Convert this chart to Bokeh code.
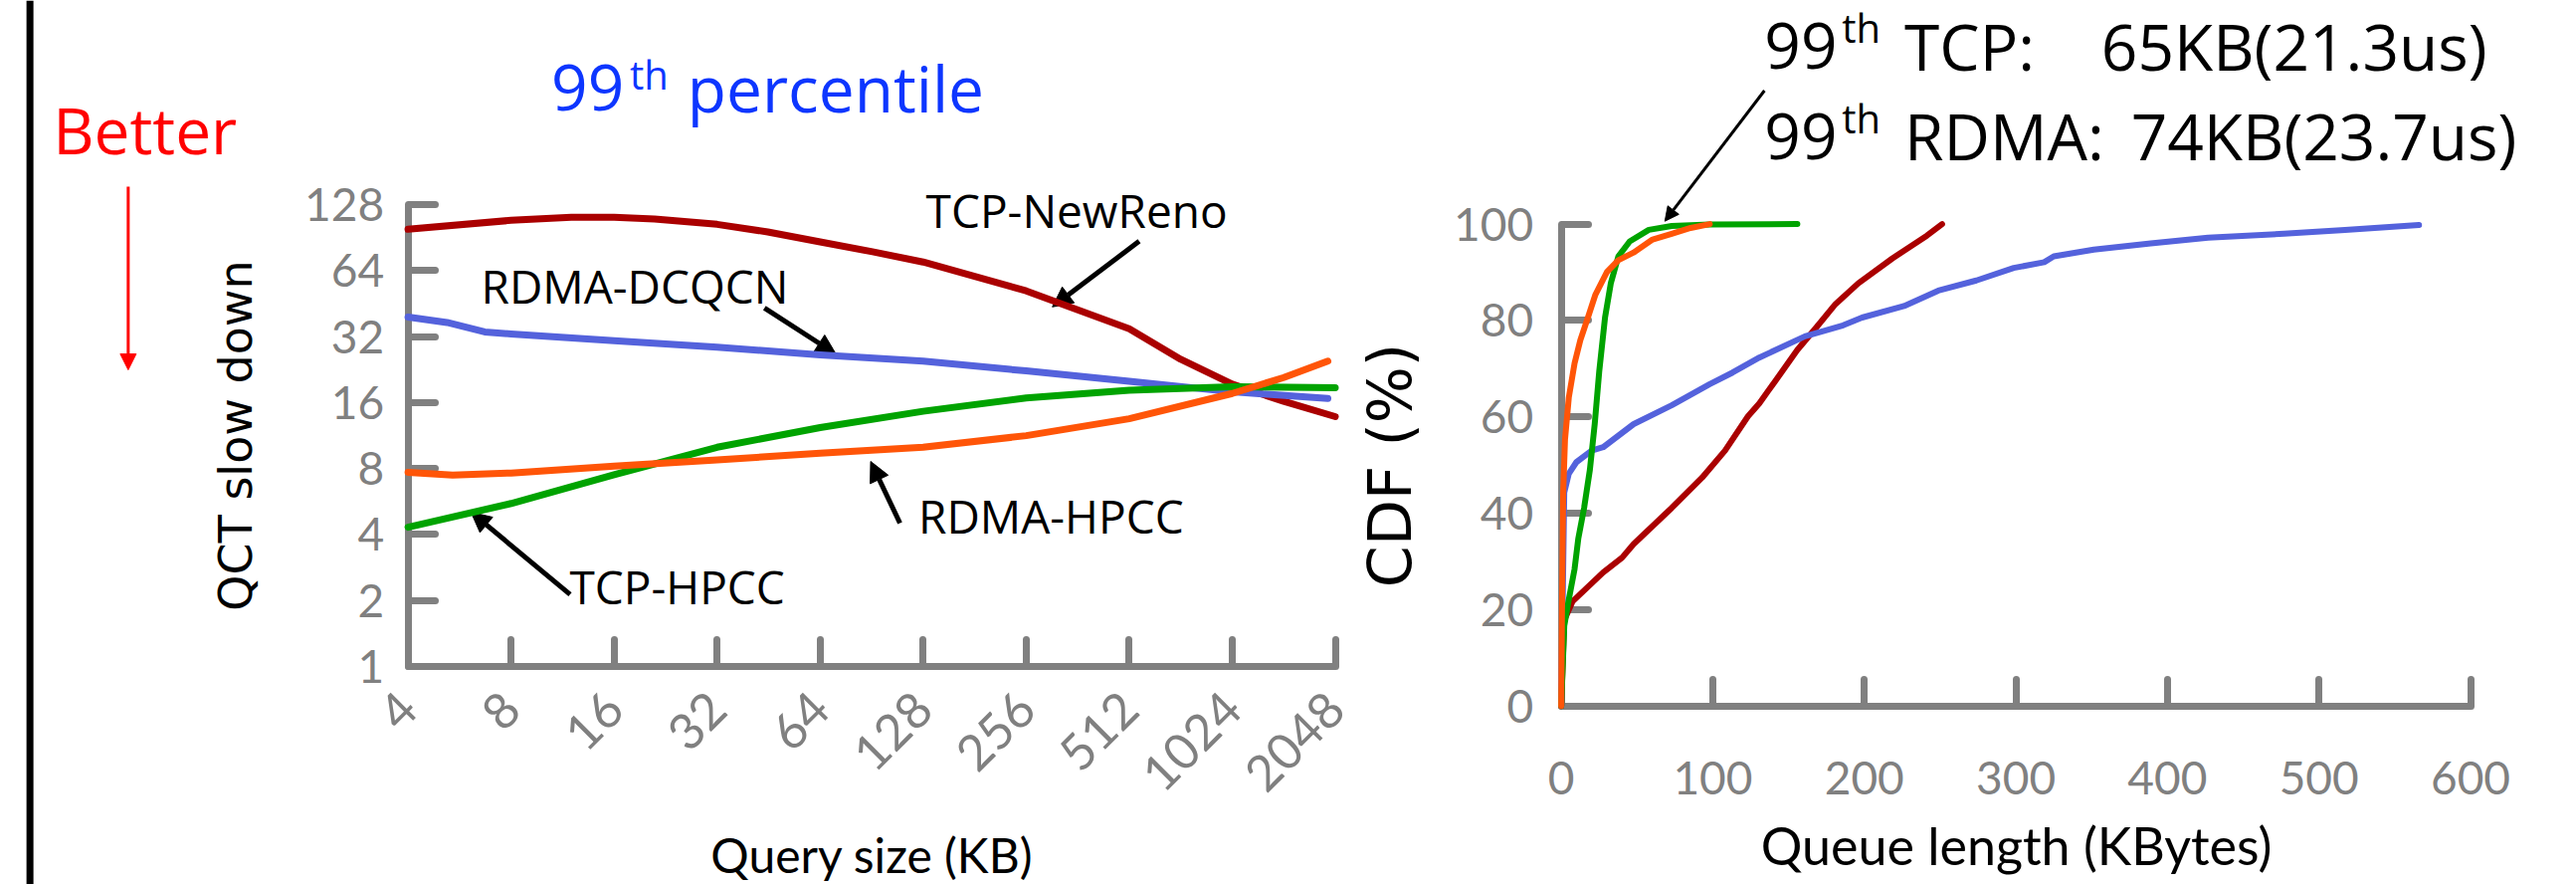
import math
from bokeh.plotting import figure
from bokeh.models import (FixedTicker, Label, Arrow, NormalHead, Range1d, Span,
                          LogAxis, LinearAxis)
from bokeh.layouts import row
from bokeh.embed import file_html
from bokeh.resources import INLINE

# ---------------- data: left chart (99th percentile QCT slowdown) ----------------
query_ticks = [4, 8, 16, 32, 64, 128, 256, 512, 1024, 2048]
query_labels = ["4", "8", "16", "32", "64", "128", "256", "512", "1024", "2048"]
slow_ticks = [1, 2, 4, 8, 16, 32, 64, 128]
slow_labels = ["1", "2", "4", "8", "16", "32", "64", "128"]

newreno_x = [4, 8, 12, 16, 21, 32, 45, 64, 91, 128, 256, 512, 724, 1024, 1448, 2048]
newreno_y = [98.7, 108.5, 112, 112, 110, 104, 96, 86.5, 78, 70, 51.7, 34.7, 25.2, 19.4,
             16.2, 13.8]

dcqcn_x = [4, 5.2, 6.7, 8, 16, 32, 64, 128, 256, 512, 1024, 1948]
dcqcn_y = [39.3, 37.1, 33.6, 32.9, 30.6, 28.6, 26.4, 24.7, 22.3, 20.0, 17.9, 16.7]

tcp_hpcc_x = [4, 8, 16, 32, 64, 128, 256, 512, 1024, 2048]
tcp_hpcc_y = [4.32, 5.54, 7.5, 10.0, 12.3, 14.6, 16.8, 18.2, 18.9, 18.7]

rdma_hpcc_x = [4, 5.4, 8, 16, 32, 64, 128, 256, 512, 1024, 1448, 1948]
rdma_hpcc_y = [7.69, 7.47, 7.63, 8.2, 8.75, 9.4, 10.0, 11.3, 13.5, 17.6, 20.8, 24.7]

# ---------------- data: right chart (queue length CDF) ----------------
queue_ticks = [0, 100, 200, 300, 400, 500, 600]
cdf_ticks = [0, 20, 40, 60, 80, 100]

q_newreno = [0, 2, 7.5, 27.6, 40.2, 47.8, 72.9, 93, 108.1, 123.2, 130.7, 140.7, 155.8,
             168.4, 181, 196, 218.6, 241.3, 251.3]
c_newreno = [0, 17.8, 21.7, 27.7, 30.8, 33.6, 41.1, 47.4, 53, 60.1, 62.8, 67.2, 73.9,
             78.6, 83.4, 87.7, 92.9, 97.6, 100]

q_dcqcn = [0, 2, 5, 10, 20.1, 27.7, 47.8, 72.9, 98, 113.1, 130.7, 160.8, 186, 198.5,
           226.2, 248.8, 273.9, 298.6, 318.7, 325, 351.4, 389, 426.8, 477, 517.2, 566]
c_dcqcn = [0, 44.3, 48.2, 50.6, 53, 53.7, 58.5, 62.4, 66.8, 69.2, 72.3, 76.7, 79, 80.6,
           83, 86.2, 88.3, 90.9, 92.1, 93.3, 94.7, 96, 97.2, 98, 98.8, 99.8]

q_tcp_hpcc = [0, 2, 5, 8.8, 11.3, 15.1, 18.9, 22.1, 25.1, 28.9, 32.7, 37.7, 45.2, 57.8,
              72.9, 98, 155.8]
c_tcp_hpcc = [0, 16.6, 22.1, 28.4, 34.8, 41.1, 49, 58.5, 69.5, 80.6, 87.7, 93.3, 96.4,
              98.8, 99.6, 99.9, 100]

q_rdma_hpcc = [0, 0.5, 1.3, 2.5, 5, 8.8, 12.6, 17.6, 22.6, 30.2, 37.7, 47.8, 60.3, 72.9,
               85.4, 98]
c_rdma_hpcc = [0, 20, 44.3, 55.3, 64, 71.1, 75.9, 80.6, 85.4, 90.1, 92.5, 94.1, 96.8, 98,
               99.2, 100]

# ---------------- styles ----------------
RED = "#AA0000"
BLUE = "#5462DC"
GREEN = "#00A300"
ORANGE = "#FF5508"
AX_GRAY = "#808080"
TITLE_BLUE = "#0D36FF"
ANN_FONT = "Open Sans"
BASELINE_FIX = 0.39   # Label anchors on the text box centre; lift to put baseline on y

# ---------------- layout geometry (pixels inside each figure) ----------------
LW, LH = 1362, 888                      # left figure
L_X4, L_X2048 = 409.6, 1341.5           # x positions of 4 KB and 2048 KB
L_Y1, L_Y128 = 669.0, 205.0             # y positions (from top) of 1 and 128
RW, RH = 1227, 888                      # right figure
R_X0, R_X600 = 206.6, 1120.5
R_Y0, R_Y100 = 708.7, 224.6


def log_range(lo_val, hi_val, lo_px, hi_px, size, flip=False):
    a, b = math.log2(lo_val), math.log2(hi_val)
    if flip:   # pixel measured from the top: lo_px > hi_px
        k = (b - a) / (lo_px - hi_px)
        return Range1d(2 ** (a - (size - lo_px) * k), 2 ** (b + hi_px * k))
    k = (b - a) / (hi_px - lo_px)
    return Range1d(2 ** (a - lo_px * k), 2 ** (b + (size - hi_px) * k))


def lin_range(lo_val, hi_val, lo_px, hi_px, size, flip=False):
    if flip:
        k = (hi_val - lo_val) / (lo_px - hi_px)
        return Range1d(lo_val - (size - lo_px) * k, hi_val + hi_px * k)
    k = (hi_val - lo_val) / (hi_px - lo_px)
    return Range1d(lo_val - lo_px * k, hi_val + (size - hi_px) * k)


def style_axis(ax, label_size=46):
    ax.axis_line_color = AX_GRAY
    ax.axis_line_width = 7
    ax.major_tick_line_color = AX_GRAY
    ax.major_tick_line_width = 7
    ax.major_tick_line_cap = "round"
    ax.major_tick_in = 27
    ax.major_tick_out = 0
    ax.minor_tick_line_color = None
    ax.major_label_text_color = AX_GRAY
    ax.major_label_text_font = "Lato"
    ax.major_label_text_font_size = f"{label_size}px"
    ax.axis_label_text_color = "black"
    ax.axis_label_text_font_style = "normal"


def base_fig(w, h, xr, yr, xtype, ytype):
    p = figure(width=w, height=h, x_range=xr, y_range=yr, x_axis_type=xtype,
               y_axis_type=ytype, x_axis_location=None, y_axis_location=None,
               min_border=0, toolbar_location=None, output_backend="svg")
    p.grid.visible = False
    p.outline_line_color = None
    p.background_fill_color = "white"
    p.border_fill_color = "white"
    return p


def text(p, x, y, s, size, color="black", font=ANN_FONT):
    p.add_layout(Label(x=x, y=y, text=s, text_font=font, text_font_size=f"{size}px",
                       text_color=color, text_align="left", text_baseline="alphabetic",
                       y_offset=BASELINE_FIX * size))


def arrow(p, x0, y0, x1, y1, color="black", width=5, head=20):
    p.add_layout(Arrow(x_start=x0, y_start=y0, x_end=x1, y_end=y1,
                       line_color=color, line_width=width,
                       end=NormalHead(size=head, fill_color=color, line_color=color,
                                      line_width=1)))


# ---------------- left figure ----------------
p1 = base_fig(LW, LH,
              log_range(4, 2048, L_X4, L_X2048, LW),
              log_range(1, 128, L_Y1, L_Y128, LH, flip=True), "log", "log")

xa = LogAxis(fixed_location=1, bounds=(4, 2048), ticker=FixedTicker(ticks=query_ticks))
style_axis(xa, label_size=50)
xa.major_label_overrides = {t: s for t, s in zip(query_ticks, query_labels)}
xa.major_label_orientation = math.pi / 4
xa.major_label_standoff = 34
xa.axis_label = "Query size (KB)"
xa.axis_label_text_font = "Lato"
xa.axis_label_text_font_size = "48px"
xa.axis_label_standoff = 16
p1.add_layout(xa, "below")

ya = LogAxis(fixed_location=4, bounds=(1, 128), ticker=FixedTicker(ticks=slow_ticks))
style_axis(ya)
ya.major_label_overrides = {t: s for t, s in zip(slow_ticks, slow_labels)}
ya.major_label_standoff = 24
ya.axis_label = "QCT slow down"
ya.axis_label_text_font = "DejaVu Sans"
ya.axis_label_text_font_size = "46px"
ya.axis_label_standoff = 39
p1.add_layout(ya, "left")

for xs, ys, c in [(newreno_x, newreno_y, RED), (dcqcn_x, dcqcn_y, BLUE),
                  (tcp_hpcc_x, tcp_hpcc_y, GREEN), (rdma_hpcc_x, rdma_hpcc_y, ORANGE)]:
    p1.line(xs, ys, line_color=c, line_width=7, line_cap="round", line_join="round",
            level="overlay")

# left margin: vertical rule, "Better" and its arrow
p1.add_layout(Span(location=0.3143, dimension="height", line_color="black", line_width=7))
text(p1, 0.367, 216, "Better", 64, color="#FF0000")
arrow(p1, 0.6087, 154.5, 0.6087, 22.55, color="#FF0000", width=3, head=16)

# title
text(p1, 10.49, 336, "99", 64, color=TITLE_BLUE)
text(p1, 17.78, 430, "th", 40, color=TITLE_BLUE)
text(p1, 26.2, 336, "percentile", 64, color=TITLE_BLUE)

# series annotations
text(p1, 130.4, 100.1, "TCP-NewReno", 46)
arrow(p1, 547.6, 87.1, 305.3, 43.7)
text(p1, 6.54, 45.1, "RDMA-DCQCN", 46)
arrow(p1, 44.0, 43.2, 71.2, 26.6)
text(p1, 124, 4.03, "RDMA-HPCC", 46)
arrow(p1, 109.5, 4.51, 89.9, 8.62)
text(p1, 11.86, 1.93, "TCP-HPCC", 46)
arrow(p1, 11.9, 2.13, 6.11, 5.06)

# ---------------- right figure ----------------
p2 = base_fig(RW, RH,
              lin_range(0, 600, R_X0, R_X600, RW),
              lin_range(0, 100, R_Y0, R_Y100, RH, flip=True), "linear", "linear")

xb = LinearAxis(fixed_location=0, bounds=(0, 600), ticker=FixedTicker(ticks=queue_ticks))
style_axis(xb)
xb.major_label_standoff = 56
xb.axis_label = "Queue length (KBytes)"
xb.axis_label_text_font = "Lato"
xb.axis_label_text_font_size = "52px"
xb.axis_label_standoff = 16
p2.add_layout(xb, "below")

yb = LinearAxis(fixed_location=0, bounds=(0, 100), ticker=FixedTicker(ticks=cdf_ticks))
style_axis(yb)
yb.major_label_standoff = 28
yb.axis_label = "CDF (%)"
yb.axis_label_text_font = "DejaVu Sans"
yb.axis_label_text_font_size = "60px"
yb.axis_label_standoff = 26
p2.add_layout(yb, "left")

for xs, ys, c in [(q_newreno, c_newreno, RED), (q_dcqcn, c_dcqcn, BLUE),
                  (q_tcp_hpcc, c_tcp_hpcc, GREEN), (q_rdma_hpcc, c_rdma_hpcc, ORANGE)]:
    p2.line(xs, ys, line_color=c, line_width=6, line_cap="round", line_join="round",
            level="overlay")

text(p2, 134.1, 131.8, "99", 64)
text(p2, 185.2, 137.5, "th", 40)
text(p2, 226.5, 131.8, "TCP:", 64)
text(p2, 356.3, 131.8, "65KB(21.3us)", 64)
text(p2, 134.1, 113.1, "99", 64)
text(p2, 185.2, 118.8, "th", 40)
text(p2, 226.5, 113.1, "RDMA:", 64)
text(p2, 375.9, 113.1, "74KB(23.7us)", 64)
arrow(p2, 134.1, 127.7, 68.4, 100.6, width=3, head=14)

layout = row(p1, p2)
open("out.html", "w").write(file_html(layout, INLINE))
